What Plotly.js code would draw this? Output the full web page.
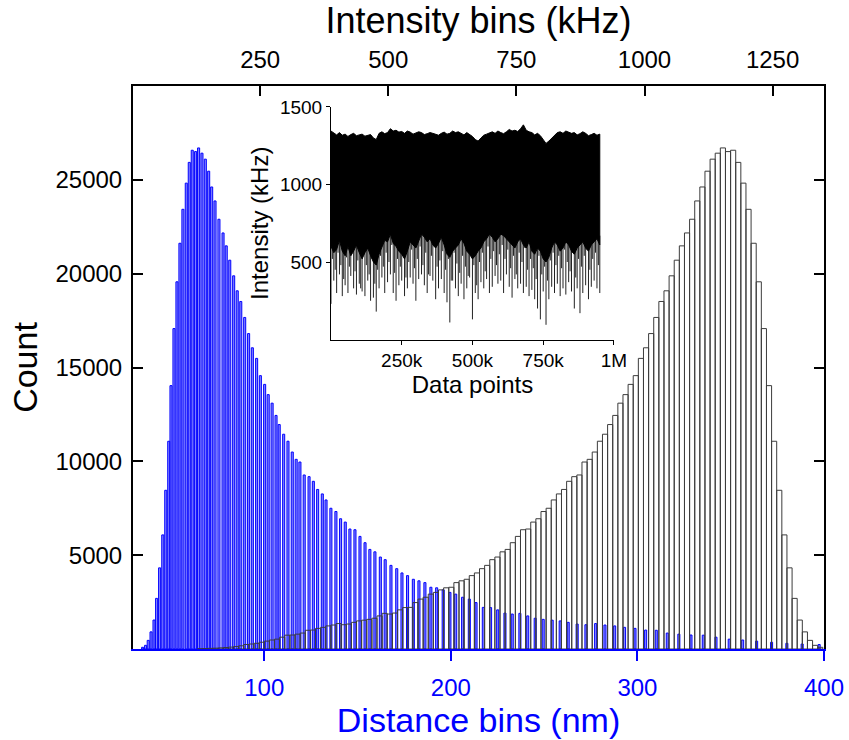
<!DOCTYPE html>
<html>
<head>
<meta charset="utf-8">
<script src="https://cdn.plot.ly/plotly-3.0.1.min.js"></script>
<style>html,body{margin:0;padding:0;background:#fff;}#chart{width:849px;height:740px;}</style>
</head>
<body>
<div id="chart"></div>
<script>
// ---- Intensity histogram (top axis, kHz): bin centres and counts ----
const intensityBins = [133,143,153,163,173,183,193,203,213,223,233,243,253,263,273,283,293,303,313,323,
  333,343,353,363,373,383,393,403,413,423,433,443,453,463,473,483,493,503,513,523,
  533,543,553,563,573,583,593,603,613,623,633,643,653,663,673,683,693,703,713,723,
  733,743,753,763,773,783,793,803,813,823,833,843,853,863,873,883,893,903,913,923,
  933,943,953,963,973,983,993,1003,1013,1023,1033,1043,1053,1063,1073,1083,1093,1103,1113,1123,
  1133,1143,1153,1163,1173,1183,1193,1203,1213,1223,1233,1243,1253,1263,1273,1283,1293,1303,1313,1323,
  1333,1343];
const counts = [15,25,35,45,60,80,100,130,170,240,266,303,360,420,479,525,630,737,745,790,
  850,998,1010,1100,1154,1230,1277,1356,1293,1330,1420,1497,1535,1580,1640,1763,1900,1862,1915,2085,
  2207,2218,2473,2660,2758,2925,3016,3150,3261,3290,3537,3633,3715,3910,4053,4281,4457,4760,4900,5178,
  5306,5665,6000,6356,6393,6763,6941,7325,7500,7943,8263,8502,8936,9183,9273,9963,10106,10495,11071,11444,
  11960,12447,13100,13555,14100,14566,15486,16050,16808,17667,18518,19087,19885,20718,21481,22170,22900,23875,24619,25460,
  26101,26420,26700,26505,26577,25930,24824,23430,21620,19566,17074,14034,11070,8457,6080,4324,2697,1542,912,460,
  195,90];

// ---- Distance histogram (bottom axis, nm): one bar per intensity bin from the 10th bin on ----
const distanceBins = [397.4,388.3,380.1,371.9,363.9,356.4,349.2,342.1,335.3,328.7,
  322.2,316.0,310.1,304.4,298.7,293.1,287.8,282.6,277.6,272.4,
  267.7,262.9,258.6,254.3,249.5,245.2,241.2,237.0,232.9,229.0,
  225.1,221.3,217.4,213.5,209.9,206.3,202.6,199.5,195.9,192.4,
  189.3,186.1,182.9,179.9,176.8,173.8,171.0,167.9,164.8,162.2,
  159.3,156.6,154.0,151.3,148.6,145.9,143.4,140.9,138.4,135.7,
  133.1,131.1,128.6,126.3,124.0,121.4,119.1,117.1,115.0,112.7,
  110.4,108.0,106.3,104.2,102.1,100.2,97.9,95.9,93.6,91.6,
  89.5,87.4,85.5,83.6,81.5,79.6,77.9,75.7,73.6,71.8,
  70.2,68.4,66.6,64.8,63.2,61.4,59.8,58.2,56.4,54.8,
  53.2,51.6,50.0,48.8,47.2,45.6,43.9,42.3,40.9,39.3,
  37.8,36.4,34.8];
const distanceCounts = counts.slice(counts.length - distanceBins.length);

// ---- Inset time trace (data points in thousands, intensity kHz) ----
const insetX = [0,10,20,30,40,50,60,70,80,90,100,110,120,130,140,150,160,170,180,190,
  200,210,220,230,240,250,260,270,280,290,300,310,320,330,340,350,360,370,380,390,
  400,410,420,430,440,450,460,470,480,490,500,510,520,530,540,550,560,570,580,590,
  600,610,620,630,640,650,660,670,680,690,700,710,720,730,740,750,760,770,780,790,
  800,810,820,830,840,850,860,870,880,890,900,910,920,930,940,950];
const insetTop = [1345,1330,1320,1335,1318,1325,1310,1322,1330,1315,1320,1325,1312,1318,1322,1300,1290,1330,1340,1328,
  1335,1360,1345,1350,1338,1342,1330,1345,1338,1325,1330,1340,1335,1322,1328,1335,1330,1325,1318,1330,
  1338,1325,1330,1345,1335,1340,1328,1320,1335,1325,1310,1290,1280,1300,1318,1325,1335,1340,1330,1345,
  1335,1328,1340,1355,1345,1350,1342,1360,1385,1350,1340,1335,1320,1330,1315,1290,1265,1280,1300,1320,
  1335,1340,1330,1345,1338,1330,1335,1320,1328,1340,1330,1315,1322,1330,1318,1325];
const insetCore = [600,560,580,640,570,540,600,540,570,610,560,520,560,590,540,500,480,550,600,640,
  630,680,620,600,570,550,520,570,630,610,590,640,680,660,630,650,610,590,620,660,
  610,550,530,570,590,610,650,620,570,550,520,540,570,590,630,650,680,660,630,650,
  680,670,650,630,610,590,630,650,610,590,630,570,550,590,570,520,500,530,590,630,
  610,570,590,630,610,570,550,590,610,630,590,570,610,630,650,610];
const insetDip = [230,380,300,420,280,350,300,410,330,290,360,310,280,380,250,270,180,330,400,300,
  370,420,300,250,350,380,280,330,400,360,250,390,420,350,300,410,380,260,330,390,
  300,240,110,380,330,280,360,260,330,400,130,300,260,370,330,390,300,340,410,360,
  380,300,420,340,270,390,330,360,300,340,280,320,260,200,130,310,95,260,340,300,
  360,280,330,290,370,310,200,330,170,300,350,260,340,380,330,300];
const insetMidX = [5,15,25,35,45,55,65,75,85,95,105,115,125,135,145,155,165,175,185,195,
  205,215,225,235,245,255,265,275,285,295,305,315,325,335,345,355,365,375,385,395,
  405,415,425,435,445,455,465,475,485,495,505,515,525,535,545,555,565,575,585,595,
  605,615,625,635,645,655,665,675,685,695,705,715,725,735,745,755,765,775,785,795,
  805,815,825,835,845,855,865,875,885,895,905,915,925,935,945];
const insetMidDip = [520,450,560,480,390,530,470,600,440,510,330,560,480,420,520,360,450,540,470,560,
  500,610,430,520,470,560,400,500,580,460,520,600,480,560,420,540,600,470,510,570,
  450,520,380,560,490,430,540,470,410,580,480,350,500,560,440,600,520,570,480,550,
  610,520,580,460,540,420,560,500,590,450,520,460,390,540,420,470,380,510,560,480,
  540,460,580,500,440,560,400,520,470,540,580,450,520,560,480];

const FONT = 'Liberation Sans, Arial, Helvetica, sans-serif';

const traces = [];
// blue distance bars
traces.push({
  type:'bar', x: distanceBins, y: distanceCounts, xaxis:'x', yaxis:'y',
  width: 1.1,
  marker:{color:'rgba(40,40,255,0.55)', line:{color:'#0000ff', width:1}},
  hoverinfo:'skip'
});
// gray intensity bars
traces.push({
  type:'bar', x: intensityBins, y: counts, xaxis:'x2', yaxis:'y',
  width: 10,
  marker:{color:'rgba(255,255,255,0)', line:{color:'#3c3c3c', width:1}},
  hoverinfo:'skip'
});
// inset: downward spikes (deep and shallow), drawn from inside the solid band
const sx = [], sy = [];
for (let i = 0; i < insetX.length; i++) {
  sx.push(insetX[i], insetX[i], null);
  sy.push(insetCore[i] + 60, insetDip[i], null);
}
for (let i = 0; i < insetMidX.length; i++) {
  sx.push(insetMidX[i], insetMidX[i], null);
  sy.push(Math.min(insetCore[i], insetCore[i + 1]) + 60, insetMidDip[i], null);
}
traces.push({
  type:'scatter', mode:'lines', xaxis:'x3', yaxis:'y3',
  x: sx, y: sy, line:{color:'#222', width:1}, hoverinfo:'skip'
});
// inset: solid core band (on top of the spike roots)
traces.push({
  type:'scatter', mode:'lines', xaxis:'x3', yaxis:'y3',
  x: insetX.concat(insetX.slice().reverse()),
  y: insetTop.concat(insetCore.slice().reverse()),
  fill:'toself', fillcolor:'#000', line:{color:'#000', width:1}, hoverinfo:'skip'
});

const layout = {
  width:849, height:740,
  margin:{l:133, r:25, t:86, b:91, pad:0},
  paper_bgcolor:'#fff', plot_bgcolor:'rgba(0,0,0,0)',
  showlegend:false, barmode:'overlay', bargap:0,
  font:{family:FONT, color:'#000'},
  xaxis:{
    domain:[0,1], anchor:'y', side:'bottom', range:[29.64,400],
    showline:true, linecolor:'#0000ff', linewidth:2,
    ticks:'outside', ticklen:10, tickwidth:2, tickcolor:'#0000ff',
    tickvals:[100,200,300,400], ticktext:['100','200','300','400'],
    tickfont:{family:FONT, size:24, color:'#0000ff'}, ticklabelstandoff:6,
    showgrid:false, zeroline:false, automargin:false,
    title:{text:'Distance bins (nm)', font:{family:FONT, size:34, color:'#0000ff'}, standoff:0}
  },
  xaxis2:{
    overlaying:'x', anchor:'y', side:'top', range:[1.8,1350.3],
    showline:true, linecolor:'#000', linewidth:2,
    ticks:'inside', ticklen:10, tickwidth:2, tickcolor:'#000',
    tickvals:[250,500,750,1000,1250], ticktext:['250','500','750','1000','1250'],
    tickfont:{family:FONT, size:24, color:'#000'}, ticklabelstandoff:6,
    showgrid:false, zeroline:false, automargin:false,
    title:{text:'Intensity bins (kHz)', font:{family:FONT, size:36, color:'#000'}, standoff:2}
  },
  yaxis:{
    domain:[0,1], anchor:'x', range:[0,30000],
    showline:true, linecolor:'#000', linewidth:2, mirror:'ticks',
    ticks:'inside', ticklen:10, tickwidth:2, tickcolor:'#000',
    tickvals:[5000,10000,15000,20000,25000], ticktext:['5000','10000','15000','20000','25000'],
    tickfont:{family:FONT, size:24, color:'#000'}, ticklabelstandoff:4,
    showgrid:false, zeroline:false, automargin:false,
    title:{text:'Count', font:{family:FONT, size:34, color:'#000'}, standoff:8}
  },
  xaxis3:{
    domain:[0.2865,0.696], anchor:'y3', range:[0,1000],
    showline:true, linecolor:'#000', linewidth:1,
    ticks:'outside', ticklen:4, tickwidth:1, tickcolor:'#000',
    tickvals:[250,500,750,1000], ticktext:['250k','500k','750k','1M'],
    tickfont:{family:FONT, size:19, color:'#000'},
    showgrid:false, zeroline:false, automargin:false,
    title:{text:'Data points', font:{family:FONT, size:24, color:'#000'}, standoff:4}
  },
  yaxis3:{
    domain:[0.5497,0.9627], anchor:'x3', range:[0,1500],
    showline:true, linecolor:'#000', linewidth:1,
    ticks:'outside', ticklen:4, tickwidth:1, tickcolor:'#000',
    tickvals:[500,1000,1500], ticktext:['500','1000','1500'],
    tickfont:{family:FONT, size:19, color:'#000'},
    showgrid:false, zeroline:false, automargin:false,
    title:{text:'Intensity (kHz)', font:{family:FONT, size:24, color:'#000'}, standoff:4}
  }
};

Plotly.newPlot('chart', traces, layout, {staticPlot:true, displayModeBar:false});
</script>
</body>
</html>
